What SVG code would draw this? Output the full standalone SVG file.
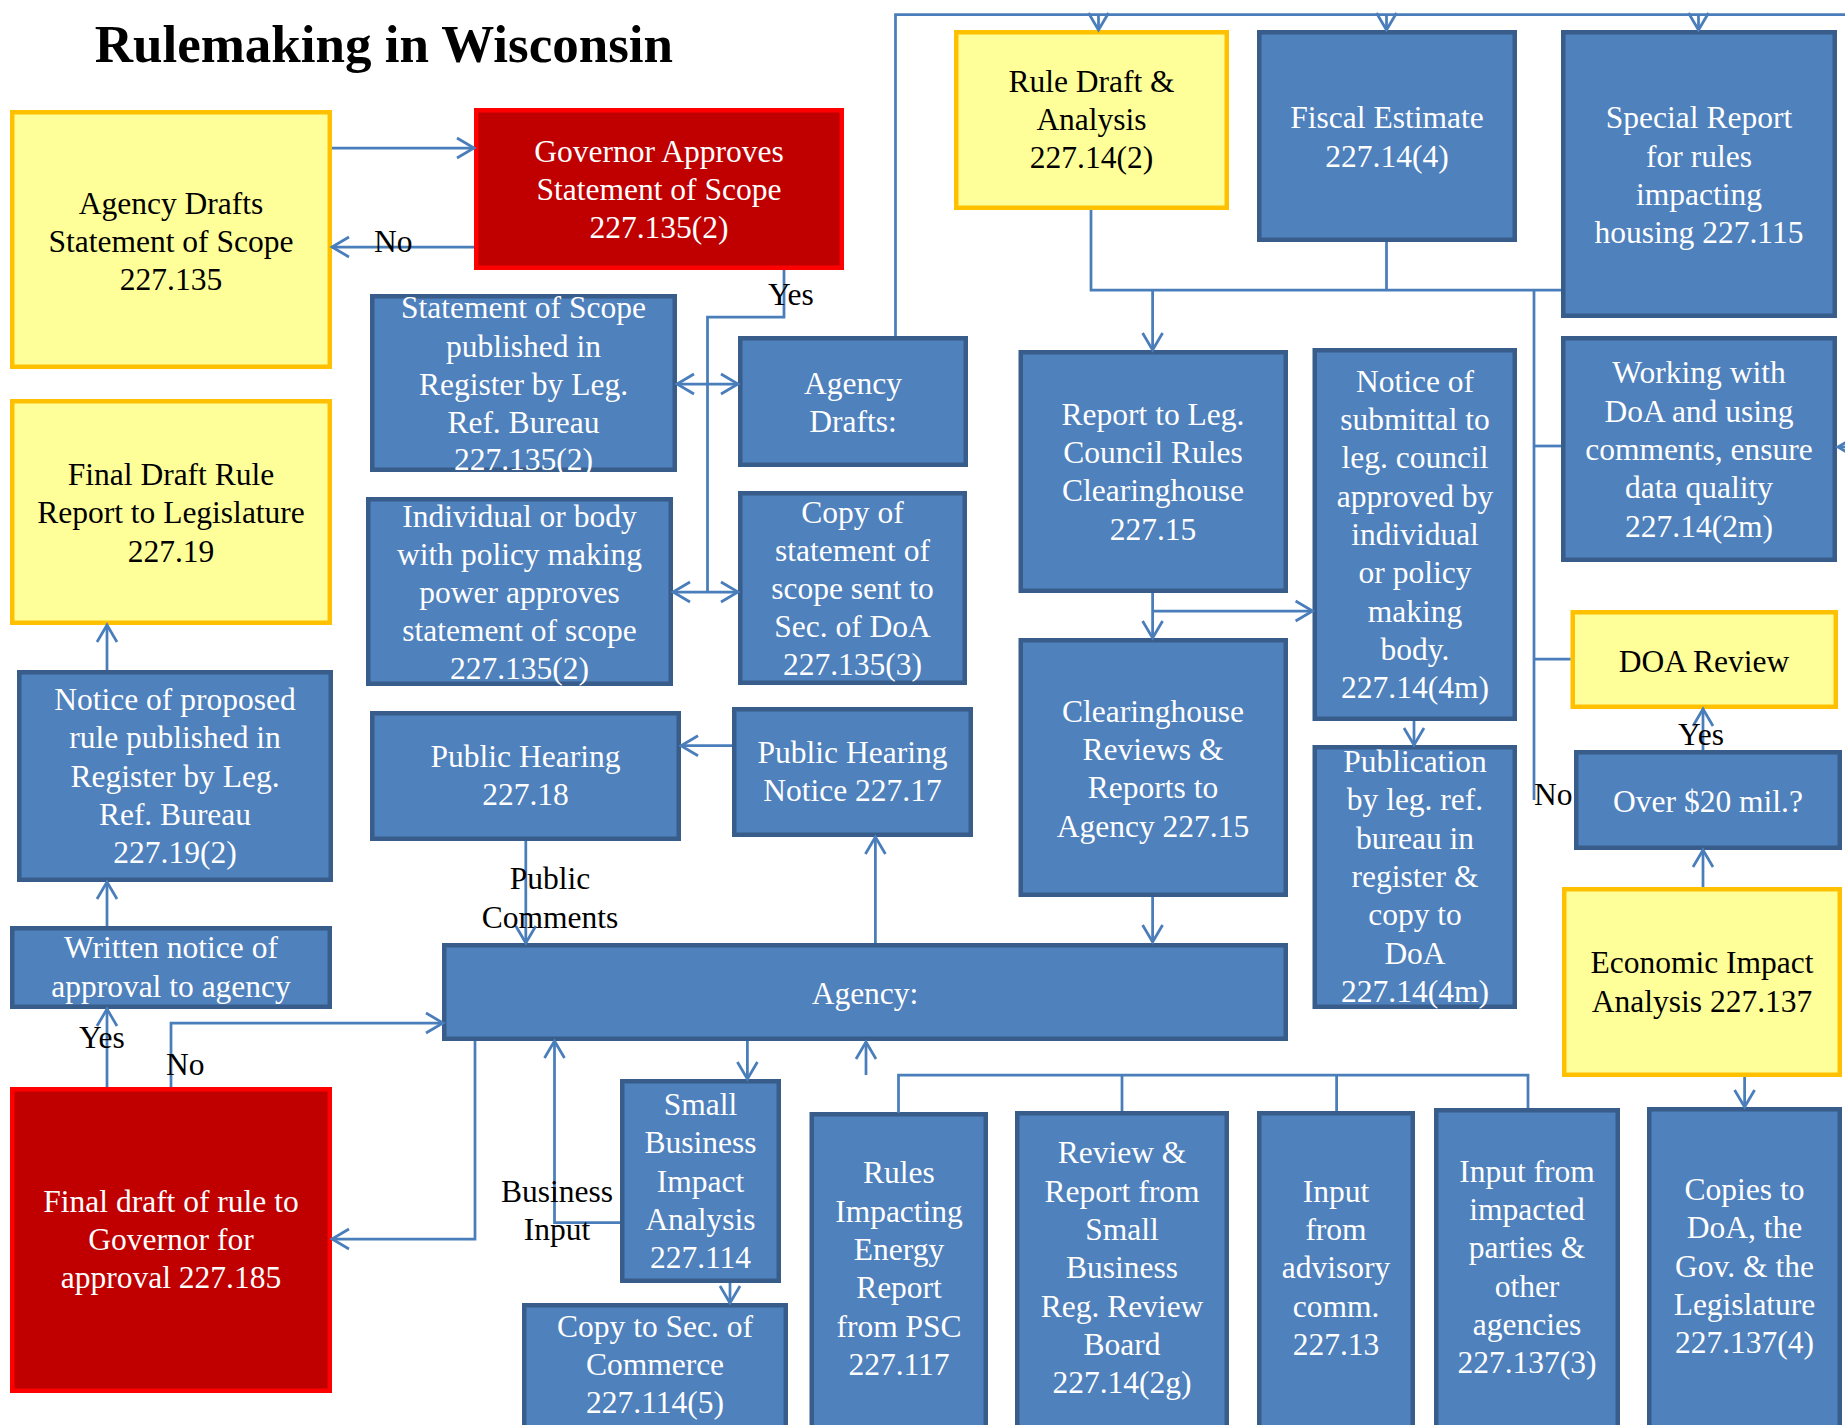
<svg xmlns="http://www.w3.org/2000/svg" width="1845" height="1425" viewBox="0 0 1845 1425">
<style>
.bb{fill:#4F81BD;stroke:#385D8A;stroke-width:4.5}
.by{fill:#FFFF99;stroke:#FFC000;stroke-width:4.5}
.br{fill:#C00000;stroke:#FF0000;stroke-width:4.5}
text{font-family:"Liberation Serif","Times New Roman",serif;font-size:31.5px}
.tw{fill:#FFFFFF;text-anchor:middle}
.tb{fill:#000000;text-anchor:middle}
.lbl{fill:#000000}
.title{font-size:53px;font-weight:bold;fill:#000}
.c{fill:none;stroke:#4A7EBB;stroke-width:2.75}
.a{marker-end:url(#ah)}
.d{marker-start:url(#ah);marker-end:url(#ah)}
</style>
<defs>
<marker id="ah" markerUnits="userSpaceOnUse" markerWidth="40" markerHeight="40" viewBox="-20 -20 40 40" refX="0" refY="0" orient="auto-start-reverse" overflow="visible">
<path d="M-17,-10 L0,0 L-17,10" fill="none" stroke="#4A7EBB" stroke-width="2.75"/>
</marker>
</defs>
<rect width="1845" height="1425" fill="#FFFFFF"/>
<text class="title" x="94.7" y="61.7">Rulemaking in Wisconsin</text>

<g id="nodes">
<g id="agency-drafts-scope"><rect class="by" x="12.25" y="112.25" width="317.5" height="254.5"/>
<text class="tb"><tspan x="171" y="213.5">Agency Drafts</tspan><tspan x="171" y="251.8">Statement of Scope</tspan><tspan x="171" y="290">227.135</tspan></text></g>
<g id="governor-approves"><rect class="br" x="476.25" y="110.25" width="365.5" height="157.5"/>
<text class="tw"><tspan x="659" y="162">Governor Approves</tspan><tspan x="659" y="200">Statement of Scope</tspan><tspan x="659" y="238">227.135(2)</tspan></text></g>
<g id="scope-published"><rect class="bb" x="372.25" y="296.25" width="302.5" height="173.5"/>
<text class="tw"><tspan x="523.5" y="318">Statement of Scope</tspan><tspan x="523.5" y="357">published in</tspan><tspan x="523.5" y="395">Register by Leg.</tspan><tspan x="523.5" y="433">Ref. Bureau</tspan><tspan x="523.5" y="470">227.135(2)</tspan></text></g>
<g id="agency-drafts"><rect class="bb" x="740.25" y="338.25" width="225.5" height="126.5"/>
<text class="tw"><tspan x="853" y="394">Agency</tspan><tspan x="853" y="432">Drafts:</tspan></text></g>
<g id="final-draft-report"><rect class="by" x="12.25" y="401.25" width="317.5" height="221.5"/>
<text class="tb"><tspan x="171" y="485">Final Draft Rule</tspan><tspan x="171" y="523">Report to Legislature</tspan><tspan x="171" y="562">227.19</tspan></text></g>
<g id="individual-approves"><rect class="bb" x="368.25" y="499.25" width="302.5" height="184.5"/>
<text class="tw"><tspan x="519.5" y="527">Individual or body</tspan><tspan x="519.5" y="565">with policy making</tspan><tspan x="519.5" y="603">power approves</tspan><tspan x="519.5" y="641">statement of scope</tspan><tspan x="519.5" y="679">227.135(2)</tspan></text></g>
<g id="copy-statement"><rect class="bb" x="740.25" y="493.25" width="224.5" height="189.5"/>
<text class="tw"><tspan x="852.5" y="523">Copy of</tspan><tspan x="852.5" y="561">statement of</tspan><tspan x="852.5" y="599">scope sent to</tspan><tspan x="852.5" y="637">Sec. of DoA</tspan><tspan x="852.5" y="675">227.135(3)</tspan></text></g>
<g id="public-hearing"><rect class="bb" x="372.25" y="713.25" width="306.5" height="125.5"/>
<text class="tw"><tspan x="525.5" y="767">Public Hearing</tspan><tspan x="525.5" y="805">227.18</tspan></text></g>
<g id="hearing-notice"><rect class="bb" x="734.25" y="709.25" width="236.5" height="125.5"/>
<text class="tw"><tspan x="852.5" y="763">Public Hearing</tspan><tspan x="852.5" y="801">Notice 227.17</tspan></text></g>
<g id="notice-proposed"><rect class="bb" x="19.25" y="672.25" width="311.5" height="207.5"/>
<text class="tw"><tspan x="175" y="710">Notice of proposed</tspan><tspan x="175" y="748">rule published in</tspan><tspan x="175" y="787">Register by Leg.</tspan><tspan x="175" y="825">Ref. Bureau</tspan><tspan x="175" y="863">227.19(2)</tspan></text></g>
<g id="written-notice"><rect class="bb" x="12.25" y="928.25" width="317.5" height="78.5"/>
<text class="tw"><tspan x="171" y="958">Written notice of</tspan><tspan x="171" y="997">approval to agency</tspan></text></g>
<g id="final-draft-governor"><rect class="br" x="12.25" y="1089.25" width="317.5" height="301.5"/>
<text class="tw"><tspan x="171" y="1212">Final draft of rule to</tspan><tspan x="171" y="1250">Governor for</tspan><tspan x="171" y="1288">approval 227.185</tspan></text></g>
<g id="agency"><rect class="bb" x="444.25" y="945.25" width="841.5" height="93.5"/>
<text class="tw" x="865" y="1004">Agency:</text></g>
<g id="rule-draft"><rect class="by" x="956.25" y="32.25" width="270.5" height="175.5"/>
<text class="tb"><tspan x="1091.5" y="92">Rule Draft &amp;</tspan><tspan x="1091.5" y="130">Analysis</tspan><tspan x="1091.5" y="168">227.14(2)</tspan></text></g>
<g id="fiscal-estimate"><rect class="bb" x="1259.25" y="32.25" width="255.5" height="207.5"/>
<text class="tw"><tspan x="1387" y="128">Fiscal Estimate</tspan><tspan x="1387" y="167">227.14(4)</tspan></text></g>
<g id="special-report"><rect class="bb" x="1563.25" y="32.25" width="271.5" height="283.5"/>
<text class="tw"><tspan x="1699" y="128">Special Report</tspan><tspan x="1699" y="167">for rules</tspan><tspan x="1699" y="205">impacting</tspan><tspan x="1699" y="243">housing 227.115</tspan></text></g>
<g id="report-leg-council"><rect class="bb" x="1020.75" y="352.25" width="265" height="238.5"/>
<text class="tw"><tspan x="1153" y="425">Report to Leg.</tspan><tspan x="1153" y="463">Council Rules</tspan><tspan x="1153" y="501">Clearinghouse</tspan><tspan x="1153" y="540">227.15</tspan></text></g>
<g id="notice-submittal"><rect class="bb" x="1314.75" y="350.25" width="200" height="368.5"/>
<text class="tw"><tspan x="1415" y="392">Notice of</tspan><tspan x="1415" y="430">submittal to</tspan><tspan x="1415" y="468">leg. council</tspan><tspan x="1415" y="507">approved by</tspan><tspan x="1415" y="545">individual</tspan><tspan x="1415" y="583">or policy</tspan><tspan x="1415" y="622">making</tspan><tspan x="1415" y="660">body.</tspan><tspan x="1415" y="698">227.14(4m)</tspan></text></g>
<g id="working-doa"><rect class="bb" x="1563.25" y="338.25" width="271.5" height="221.5"/>
<text class="tw"><tspan x="1699" y="383">Working with</tspan><tspan x="1699" y="422">DoA and using</tspan><tspan x="1699" y="460">comments, ensure</tspan><tspan x="1699" y="498">data quality</tspan><tspan x="1699" y="537">227.14(2m)</tspan></text></g>
<g id="clearinghouse-reviews"><rect class="bb" x="1020.75" y="640.25" width="265" height="254.5"/>
<text class="tw"><tspan x="1153" y="722">Clearinghouse</tspan><tspan x="1153" y="760">Reviews &amp;</tspan><tspan x="1153" y="798">Reports to</tspan><tspan x="1153" y="837">Agency 227.15</tspan></text></g>
<g id="publication"><rect class="bb" x="1314.75" y="747.25" width="200" height="259.5"/>
<text class="tw"><tspan x="1415" y="772">Publication</tspan><tspan x="1415" y="810">by leg. ref.</tspan><tspan x="1415" y="849">bureau in</tspan><tspan x="1415" y="887">register &amp;</tspan><tspan x="1415" y="925">copy to</tspan><tspan x="1415" y="964">DoA</tspan><tspan x="1415" y="1002">227.14(4m)</tspan></text></g>
<g id="doa-review"><rect class="by" x="1572.75" y="612.25" width="263" height="94.5"/>
<text class="tb" x="1704" y="672">DOA Review</text></g>
<g id="over-20-mil"><rect class="bb" x="1576.25" y="752.25" width="263.5" height="95.5"/>
<text class="tw" x="1708" y="812">Over $20 mil.?</text></g>
<g id="economic-impact"><rect class="by" x="1564.25" y="889.25" width="275.5" height="185.5"/>
<text class="tb"><tspan x="1702" y="973">Economic Impact</tspan><tspan x="1702" y="1012">Analysis 227.137</tspan></text></g>
<g id="small-business"><rect class="bb" x="622.25" y="1081.25" width="156.5" height="199.5"/>
<text class="tw"><tspan x="700.5" y="1115">Small</tspan><tspan x="700.5" y="1153">Business</tspan><tspan x="700.5" y="1192">Impact</tspan><tspan x="700.5" y="1230">Analysis</tspan><tspan x="700.5" y="1268">227.114</tspan></text></g>
<g id="copy-commerce"><rect class="bb" x="524.25" y="1305.25" width="261.5" height="140"/>
<text class="tw"><tspan x="655" y="1337">Copy to Sec. of</tspan><tspan x="655" y="1375">Commerce</tspan><tspan x="655" y="1413">227.114(5)</tspan></text></g>
<g id="energy-report"><rect class="bb" x="811.75" y="1114.25" width="174" height="330"/>
<text class="tw"><tspan x="899" y="1183">Rules</tspan><tspan x="899" y="1222">Impacting</tspan><tspan x="899" y="1260">Energy</tspan><tspan x="899" y="1298">Report</tspan><tspan x="899" y="1337">from PSC</tspan><tspan x="899" y="1375">227.117</tspan></text></g>
<g id="review-board"><rect class="bb" x="1017.25" y="1113.25" width="209.5" height="330"/>
<text class="tw"><tspan x="1122" y="1163">Review &amp;</tspan><tspan x="1122" y="1202">Report from</tspan><tspan x="1122" y="1240">Small</tspan><tspan x="1122" y="1278">Business</tspan><tspan x="1122" y="1317">Reg. Review</tspan><tspan x="1122" y="1355">Board</tspan><tspan x="1122" y="1393">227.14(2g)</tspan></text></g>
<g id="advisory-input"><rect class="bb" x="1259.25" y="1113.25" width="153.5" height="330"/>
<text class="tw"><tspan x="1336" y="1202">Input</tspan><tspan x="1336" y="1240">from</tspan><tspan x="1336" y="1278">advisory</tspan><tspan x="1336" y="1317">comm.</tspan><tspan x="1336" y="1355">227.13</tspan></text></g>
<g id="impacted-input"><rect class="bb" x="1436.25" y="1110.25" width="181.5" height="330"/>
<text class="tw"><tspan x="1527" y="1182">Input from</tspan><tspan x="1527" y="1220">impacted</tspan><tspan x="1527" y="1258">parties &amp;</tspan><tspan x="1527" y="1297">other</tspan><tspan x="1527" y="1335">agencies</tspan><tspan x="1527" y="1373">227.137(3)</tspan></text></g>
<g id="copies-doa"><rect class="bb" x="1649.25" y="1109.25" width="190.5" height="330"/>
<text class="tw"><tspan x="1744.5" y="1200">Copies to</tspan><tspan x="1744.5" y="1238">DoA, the</tspan><tspan x="1744.5" y="1277">Gov. &amp; the</tspan><tspan x="1744.5" y="1315">Legislature</tspan><tspan x="1744.5" y="1353">227.137(4)</tspan></text></g>
</g>

<g id="connectors">
<path class="c a" d="M332,148 H474"/>
<path class="c a" d="M474,247 H332"/>
<path class="c" d="M784,270 V317 H707.5 V592"/>
<path class="c d" d="M677,384 H738"/>
<path class="c d" d="M673,592 H738"/>
<path class="c" d="M895.5,336 V14.5 H1845"/>
<path class="c a" d="M1098.5,14.5 V30"/>
<path class="c a" d="M1386.5,14.5 V30"/>
<path class="c a" d="M1698.5,14.5 V30"/>
<path class="c a" d="M1845,447 H1838"/>
<path class="c" d="M1091,210 V290 H1561"/>
<path class="c" d="M1386.5,242 V290"/>
<path class="c a" d="M1152.6,290 V350"/>
<path class="c" d="M1534,290 V800"/>
<path class="c" d="M1534,446 H1561"/>
<path class="c" d="M1534,659 H1570.5"/>
<path class="c a" d="M1152.6,593 V638"/>
<path class="c a" d="M1152.6,611 H1312.6"/>
<path class="c a" d="M1414,721 V745"/>
<path class="c a" d="M1152.6,897 V942"/>
<path class="c a" d="M1703,750 V709"/>
<path class="c a" d="M1703,887 V850"/>
<path class="c a" d="M1744.6,1077 V1107"/>
<path class="c a" d="M875.4,943 V837"/>
<path class="c a" d="M732,745.7 H681"/>
<path class="c a" d="M525.8,841 V943"/>
<path class="c a" d="M107,1087 V1009"/>
<path class="c a" d="M107,926 V882"/>
<path class="c a" d="M107,670 V625"/>
<path class="c a" d="M171,1087 V1023 H443"/>
<path class="c a" d="M475,1041 V1239 H332"/>
<path class="c a" d="M620,1222.5 H554.5 V1041"/>
<path class="c a" d="M747.4,1041 V1079"/>
<path class="c a" d="M730,1283 V1303"/>
<path class="c" d="M898.5,1113 V1075 H1528 V1108"/>
<path class="c" d="M1122,1111 V1075"/>
<path class="c" d="M1336.6,1111 V1075"/>
<path class="c a" d="M866,1075 V1042"/>
</g>

<g id="labels">
<text class="lbl" x="374" y="252">No</text>
<text class="lbl" x="768" y="305">Yes</text>
<text class="lbl" x="550" y="889" text-anchor="middle">Public</text>
<text class="lbl" x="550" y="928" text-anchor="middle">Comments</text>
<text class="lbl" x="79" y="1048">Yes</text>
<text class="lbl" x="166" y="1075">No</text>
<text class="lbl" x="557" y="1202" text-anchor="middle">Business</text>
<text class="lbl" x="557" y="1240" text-anchor="middle">Input</text>
<text class="lbl" x="1701" y="745" text-anchor="middle">Yes</text>
<text class="lbl" x="1534" y="805">No</text>
</g>
</svg>
